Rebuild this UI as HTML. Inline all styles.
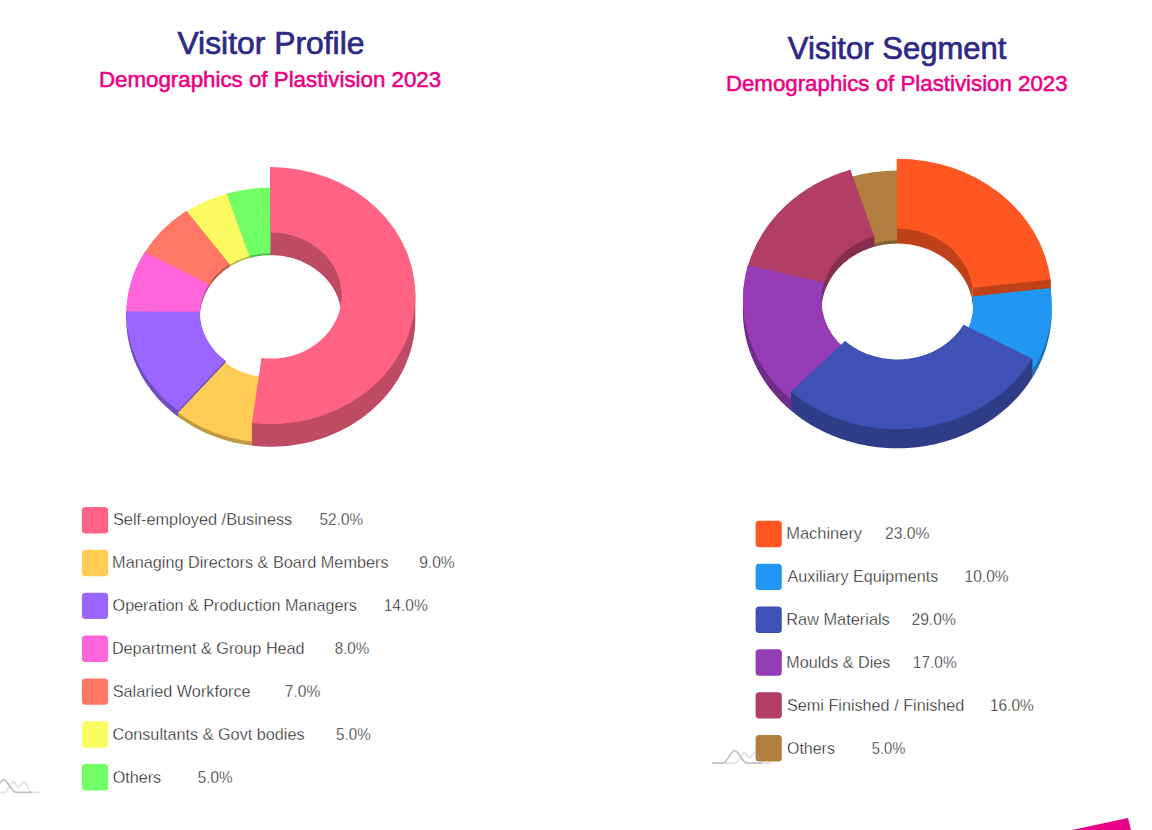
<!DOCTYPE html>
<html><head><meta charset="utf-8"><style>
html,body{margin:0;padding:0;background:#fff;width:1152px;height:830px;overflow:hidden;position:relative}
svg{position:absolute;left:0;top:0}
text{font-family:"Liberation Sans",sans-serif;white-space:pre}
</style></head><body>
<svg width="1152" height="830" viewBox="0 0 1152 830">
<g><path d="M271.56,189.71L271.17,255.18L271.17,253.01L270.8,253L270.8,187.54L271.56,187.54Z" fill="#56bf4c"/><path d="M226.85,193.62L227.22,194.64L229.91,193.9L232.61,193.21L235.33,192.57L238.07,191.97L237.79,190.93L237.79,193.11L235.04,193.71L232.29,194.35L229.56,195.05L226.85,195.79ZM237.79,190.93L238.07,191.97L240.81,191.42L243.57,190.92L246.34,190.47L249.12,190.07L248.94,189.02L248.94,191.19L246.13,191.6L243.34,192.05L240.56,192.55L237.79,193.11ZM248.94,189.02L249.12,190.07L251.9,189.72L254.7,189.41L257.5,189.15L260.3,188.95L260.21,187.88L260.21,190.06L257.39,190.27L254.56,190.52L251.74,190.83L248.94,191.19ZM260.21,187.88L260.3,188.95L263.11,188.79L265.92,188.68L268.74,188.62L271.55,188.61L271.56,187.54L271.56,189.71L268.72,189.72L265.88,189.79L263.05,189.9L260.21,190.06ZM249.24,255.99L248.88,254.97L250.23,254.6L251.59,254.25L252.96,253.93L254.34,253.63L254.61,254.67L254.61,256.84L253.26,257.14L251.91,257.46L250.57,257.8L249.24,258.16ZM254.61,254.67L254.34,253.63L255.72,253.36L257.1,253.1L258.5,252.88L259.89,252.68L260.08,253.73L260.08,255.9L258.7,256.1L257.33,256.33L255.97,256.57L254.61,256.84ZM260.08,253.73L259.89,252.68L261.3,252.5L262.7,252.34L264.11,252.21L265.52,252.11L265.61,253.17L265.61,255.35L264.22,255.45L262.84,255.58L261.45,255.73L260.08,255.9ZM265.61,253.17L265.52,252.11L266.93,252.03L268.35,251.98L269.76,251.94L271.18,251.94L271.17,253.01L271.17,255.18L269.78,255.18L268.39,255.21L267,255.27L265.61,255.35Z" fill="#56bf4c"/><path d="M248.89,256.09L226.13,193.83A144.55,128.49,0,0,1,271.56,187.54L271.17,253.01A70.9,63.02,0,0,0,248.89,256.09Z" fill="#72ff66"/><path d="M249.24,258.16L226.85,195.79L226.85,193.62L249.24,255.99Z" fill="#56bf4c"/></g>
<g><path d="M226.85,195.79L249.24,258.16L249.24,255.99L248.89,256.09L226.13,193.83L226.85,193.62Z" fill="#bbbc48"/><path d="M186.45,211.68L187.15,212.55L189.45,211.11L191.78,209.71L194.15,208.35L196.54,207.03L195.92,206.12L195.92,208.3L193.51,209.62L191.12,210.99L188.77,212.4L186.45,213.86ZM195.92,206.12L196.54,207.03L198.96,205.76L201.41,204.53L203.89,203.34L206.39,202.19L205.85,201.24L205.85,203.41L203.33,204.57L200.83,205.77L198.36,207.01L195.92,208.3ZM205.85,201.24L206.39,202.19L208.92,201.09L211.47,200.03L214.04,199.02L216.64,198.05L216.18,197.06L216.18,199.24L213.57,200.21L210.97,201.23L208.4,202.3L205.85,203.41ZM216.18,197.06L216.64,198.05L219.25,197.13L221.89,196.25L224.54,195.42L227.22,194.64L226.85,193.62L226.85,195.79L224.16,196.58L221.48,197.42L218.82,198.31L216.18,199.24ZM229.43,264.85L228.73,263.98L229.88,263.26L231.06,262.55L232.25,261.87L233.45,261.21L234.07,262.12L234.07,264.29L232.89,264.94L231.72,265.62L230.57,266.31L229.43,267.02ZM234.07,262.12L233.45,261.21L234.67,260.57L235.9,259.95L237.15,259.35L238.4,258.77L238.94,259.72L238.94,261.9L237.71,262.46L236.48,263.05L235.27,263.66L234.07,264.29ZM238.94,259.72L238.4,258.77L239.67,258.22L240.96,257.69L242.25,257.18L243.56,256.69L244.01,257.68L244.01,259.85L242.73,260.33L241.45,260.83L240.19,261.35L238.94,261.9ZM244.01,257.68L243.56,256.69L244.87,256.22L246.2,255.78L247.53,255.37L248.88,254.97L249.24,255.99L249.24,258.16L247.92,258.55L246.61,258.96L245.31,259.39L244.01,259.85Z" fill="#bbbc48"/><path d="M229.13,265.04L185.84,212.08A144.55,128.49,0,0,1,226.85,193.62L249.24,255.99A70.9,63.02,0,0,0,229.13,265.04Z" fill="#f9fb60"/><path d="M229.43,267.02L186.45,213.86L186.45,211.68L229.43,264.85Z" fill="#bbbc48"/></g>
<g><path d="M186.45,213.86L229.43,267.02L229.43,263.98L229.13,264.17L185.84,211.21L186.45,210.81Z" fill="#bf5a4c"/><path d="M144.5,252.67L145.54,253.19L146.84,251.16L148.18,249.15L149.56,247.16L150.99,245.2L149.98,244.61L149.98,247.66L148.55,249.64L147.16,251.64L145.81,253.66L144.5,255.71ZM149.98,244.61L150.99,245.2L152.45,243.26L153.95,241.34L155.49,239.45L157.07,237.59L156.12,236.94L156.12,239.98L154.53,241.86L152.97,243.77L151.46,245.7L149.98,247.66ZM156.12,236.94L157.07,237.59L158.69,235.75L160.35,233.94L162.04,232.15L163.77,230.39L162.87,229.68L162.87,232.73L161.13,234.5L159.42,236.3L157.75,238.13L156.12,239.98ZM162.87,229.68L163.77,230.39L165.53,228.66L167.34,226.96L169.17,225.29L171.04,223.65L170.21,222.89L170.21,225.93L168.32,227.58L166.47,229.27L164.65,230.98L162.87,232.73ZM170.21,222.89L171.04,223.65L172.94,222.04L174.88,220.46L176.85,218.92L178.85,217.4L178.08,216.59L178.08,219.63L176.06,221.15L174.08,222.71L172.12,224.31L170.21,225.93ZM178.08,216.59L178.85,217.4L180.88,215.92L182.94,214.47L185.03,213.06L187.15,211.68L186.45,210.81L186.45,213.86L184.31,215.25L182.2,216.67L180.13,218.13L178.08,219.63ZM208.85,284.51L207.8,283.99L208.45,282.97L209.13,281.96L209.82,280.96L210.54,279.97L211.54,280.56L211.54,283.6L210.84,284.57L210.15,285.55L209.49,286.55L208.85,287.55ZM211.54,280.56L210.54,279.97L211.27,279L212.03,278.03L212.8,277.08L213.6,276.14L214.55,276.79L214.55,279.83L213.77,280.76L213.01,281.69L212.26,282.64L211.54,283.6ZM214.55,276.79L213.6,276.14L214.41,275.22L215.25,274.31L216.1,273.41L216.97,272.52L217.86,273.23L217.86,276.28L217.01,277.15L216.17,278.03L215.35,278.92L214.55,279.83ZM217.86,273.23L216.97,272.52L217.86,271.65L218.76,270.8L219.68,269.96L220.62,269.13L221.46,269.9L221.46,272.94L220.54,273.75L219.63,274.58L218.74,275.42L217.86,276.28ZM221.46,269.9L220.62,269.13L221.58,268.32L222.56,267.53L223.55,266.75L224.55,265.99L225.32,266.81L225.32,269.85L224.33,270.6L223.36,271.37L222.4,272.15L221.46,272.94ZM225.32,266.81L224.55,265.99L225.57,265.25L226.61,264.52L227.66,263.81L228.73,263.11L229.43,263.98L229.43,267.02L228.38,267.7L227.34,268.4L226.33,269.12L225.32,269.85Z" fill="#bf5a4c"/><path d="M208.67,284.8L144.13,253.26A144.55,128.49,0,0,1,186.45,210.81L229.43,263.98A70.9,63.02,0,0,0,208.67,284.8Z" fill="#ff7866"/><path d="M208.85,287.55L144.5,255.71L144.5,252.67L208.85,284.51Z" fill="#bf5a4c"/></g>
<g><path d="M144.5,255.71L208.85,287.55L208.85,284.07L208.67,284.36L144.13,252.82L144.5,252.23Z" fill="#bf4ca4"/><path d="M126.25,317.53L126.3,314.84L126.41,312.15L126.58,309.46L126.82,306.78L126.82,303.3L128.02,303.4L127.78,306.06L127.61,308.72L127.5,311.39L127.45,314.06L126.25,314.05ZM126.82,306.78L127.12,304.1L127.49,301.43L127.91,298.76L128.4,296.11L128.4,292.63L129.58,292.82L129.1,295.45L128.68,298.09L128.32,300.74L128.02,303.4L126.82,303.3ZM128.4,296.11L128.95,293.46L129.57,290.83L130.24,288.2L130.98,285.59L130.98,282.12L132.14,282.39L131.41,284.98L130.74,287.58L130.13,290.19L129.58,292.82L128.4,292.63ZM130.98,285.59L131.78,283L132.64,280.42L133.56,277.86L134.54,275.31L134.54,271.83L135.67,272.19L134.7,274.71L133.79,277.26L132.93,279.81L132.14,282.39L130.98,282.12ZM134.54,271.83L135.67,272.19L136.7,269.68L137.79,267.2L138.94,264.73L140.15,262.29L139.06,261.85L139.06,265.32L137.84,267.79L136.68,270.28L135.58,272.78L134.54,275.31ZM139.06,261.85L140.15,262.29L141.41,259.87L142.74,257.47L144.11,255.1L145.54,252.75L144.5,252.23L144.5,255.71L143.05,258.08L141.66,260.47L140.33,262.88L139.06,265.32ZM199.9,314.39L198.7,314.39L198.72,313.05L198.78,311.7L198.87,310.36L198.99,309.03L200.18,309.12L200.18,312.6L200.06,313.91L199.98,315.23L199.92,316.55L199.9,317.87ZM200.18,309.12L198.99,309.03L199.14,307.69L199.32,306.36L199.53,305.03L199.77,303.7L200.96,303.89L200.96,307.36L200.72,308.67L200.51,309.97L200.33,311.28L200.18,312.6ZM200.96,303.89L199.77,303.7L200.05,302.38L200.36,301.07L200.69,299.76L201.06,298.46L202.22,298.73L202.22,302.21L201.86,303.49L201.53,304.77L201.23,306.07L200.96,307.36ZM202.22,298.73L201.06,298.46L201.46,297.17L201.89,295.88L202.35,294.6L202.84,293.33L203.97,293.69L203.97,297.16L203.49,298.41L203.03,299.67L202.61,300.93L202.22,302.21ZM203.97,293.69L202.84,293.33L203.35,292.07L203.9,290.82L204.48,289.58L205.09,288.35L206.18,288.79L206.18,292.27L205.58,293.47L205.02,294.69L204.48,295.92L203.97,297.16ZM206.18,288.79L205.09,288.35L205.72,287.13L206.39,285.93L207.08,284.73L207.8,283.55L208.85,284.07L208.85,287.55L208.14,288.71L207.46,289.88L206.81,291.07L206.18,292.27Z" fill="#bf4ca4"/><path d="M199.9,314.72L126.25,314.72A144.55,128.49,0,0,1,144.5,252.23L208.85,284.07A70.9,63.02,0,0,0,199.9,314.72Z" fill="#ff65da"/><path d="M199.9,317.87L126.25,317.53L126.25,314.05L199.9,314.39Z" fill="#bf4ca4"/></g>
<g><path d="M126.25,317.53L199.9,317.87L199.9,311.79L199.9,312.12L126.25,312.12L126.25,311.44Z" fill="#734cbf"/><path d="M178.08,416.77L175.88,415.1L173.72,413.4L171.6,411.65L169.52,409.87L169.52,403.79L170.36,403.03L172.42,404.79L174.53,406.52L176.67,408.22L178.85,409.87L178.08,410.69ZM169.52,409.87L167.47,408.06L165.47,406.2L163.52,404.31L161.6,402.39L161.6,396.3L162.51,395.61L164.41,397.51L166.35,399.39L168.33,401.22L170.36,403.03L169.52,403.79ZM161.6,402.39L159.73,400.43L157.9,398.44L156.12,396.42L154.38,394.37L154.38,388.28L155.35,387.65L157.07,389.69L158.84,391.69L160.65,393.66L162.51,395.61L161.6,396.3ZM154.38,394.37L152.69,392.28L151.05,390.17L149.46,388.03L147.91,385.86L147.91,379.77L148.93,379.21L150.47,381.36L152.05,383.49L153.68,385.58L155.35,387.65L154.38,388.28ZM147.91,385.86L146.41,383.66L144.97,381.44L143.57,379.19L142.22,376.91L142.22,370.83L143.29,370.34L144.63,372.6L146.01,374.83L147.45,377.03L148.93,379.21L147.91,379.77ZM142.22,376.91L140.93,374.62L139.69,372.3L138.5,369.96L137.36,367.6L137.36,361.51L138.47,361.1L139.59,363.44L140.78,365.76L142.01,368.06L143.29,370.34L142.22,370.83ZM137.36,367.6L136.27,365.22L135.24,362.82L134.27,360.4L133.35,357.96L133.35,351.88L134.49,351.55L135.4,353.96L136.37,356.36L137.39,358.74L138.47,361.1L137.36,361.51ZM133.35,357.96L132.48,355.51L131.67,353.05L130.91,350.57L130.21,348.08L130.21,341.99L131.38,341.74L132.07,344.22L132.82,346.67L133.63,349.12L134.49,351.55L133.35,351.88ZM130.21,348.08L129.57,345.57L128.98,343.06L128.45,340.53L127.98,338L127.98,331.91L129.16,331.75L129.63,334.26L130.16,336.77L130.74,339.26L131.38,341.74L130.21,341.99ZM127.98,338L127.56,335.46L127.2,332.91L126.9,330.35L126.65,327.79L126.65,321.71L127.85,321.63L128.09,324.17L128.39,326.7L128.75,329.23L129.16,331.75L127.98,331.91ZM126.65,327.79L126.47,325.23L126.34,322.66L126.27,320.1L126.25,317.53L126.25,311.44L127.45,311.45L127.47,314L127.54,316.54L127.66,319.09L127.85,321.63L126.65,321.71ZM225.32,366.55L224.24,365.73L223.18,364.89L222.14,364.04L221.12,363.16L221.12,357.08L220.28,357.84L221.32,358.73L222.38,359.6L223.45,360.45L224.55,361.28L225.32,360.46ZM221.12,363.16L220.12,362.27L219.14,361.36L218.18,360.44L217.24,359.49L217.24,353.41L216.33,354.11L217.29,355.07L218.26,356.01L219.26,356.93L220.28,357.84L221.12,357.08ZM217.24,359.49L216.32,358.53L215.43,357.56L214.55,356.57L213.7,355.56L213.7,349.47L212.73,350.11L213.6,351.13L214.49,352.14L215.4,353.13L216.33,354.11L217.24,353.41ZM213.7,355.56L212.87,354.54L212.07,353.5L211.28,352.45L210.52,351.38L210.52,345.3L209.5,345.86L210.28,346.94L211.07,348.01L211.89,349.07L212.73,350.11L213.7,349.47ZM210.52,351.38L209.79,350.31L209.08,349.22L208.4,348.11L207.74,347L207.74,340.91L206.67,341.4L207.34,342.53L208.04,343.66L208.76,344.77L209.5,345.86L210.52,345.3ZM207.74,347L207.1,345.87L206.49,344.73L205.91,343.59L205.35,342.43L205.35,336.34L204.24,336.75L204.81,337.93L205.4,339.1L206.02,340.26L206.67,341.4L207.74,340.91ZM205.35,342.43L204.82,341.26L204.31,340.08L203.83,338.9L203.38,337.7L203.38,331.62L202.24,331.95L202.7,333.16L203.19,334.37L203.7,335.57L204.24,336.75L205.35,336.34ZM203.38,337.7L202.96,336.5L202.56,335.29L202.19,334.08L201.84,332.85L201.84,326.77L200.68,327.02L201.03,328.26L201.4,329.5L201.81,330.73L202.24,331.95L203.38,331.62ZM201.84,332.85L201.53,331.63L201.24,330.39L200.98,329.15L200.75,327.91L200.75,321.83L199.56,321.99L199.8,323.25L200.06,324.51L200.36,325.77L200.68,327.02L201.84,326.77ZM200.75,321.83L199.56,321.99L199.35,320.72L199.17,319.45L199.02,318.18L198.9,316.9L200.1,316.82L200.1,322.91L200.22,324.16L200.37,325.41L200.54,326.66L200.75,327.91ZM200.1,316.82L198.9,316.9L198.81,315.62L198.74,314.34L198.71,313.06L198.7,311.78L199.9,311.79L199.9,317.87L199.91,319.13L199.94,320.39L200.01,321.65L200.1,322.91Z" fill="#734cbf"/><path d="M225.61,360.67L178.66,411.12A144.55,128.49,0,0,1,126.25,311.44L199.9,311.79A70.9,63.02,0,0,0,225.61,360.67Z" fill="#9966ff"/><path d="M225.32,366.55L178.08,416.77L178.08,410.69L225.32,360.46Z" fill="#734cbf"/></g>
<g><path d="M178.08,416.77L225.32,366.55L225.32,362.64L225.61,362.85L178.66,413.29L178.08,412.86Z" fill="#bf9a40"/><path d="M251.93,445.59L249.04,445.22L246.16,444.81L243.29,444.34L240.43,443.82L240.43,439.91L240.68,438.87L243.52,439.38L246.37,439.85L249.22,440.26L252.09,440.62L251.93,441.68ZM240.43,443.82L237.58,443.25L234.75,442.63L231.93,441.96L229.12,441.23L229.12,437.32L229.47,436.3L232.25,437.02L235.05,437.68L237.86,438.3L240.68,438.87L240.43,439.91ZM229.12,441.23L226.34,440.46L223.57,439.64L220.82,438.76L218.09,437.84L218.09,433.93L218.53,432.94L221.23,433.85L223.96,434.72L226.71,435.53L229.47,436.3L229.12,437.32ZM218.09,437.84L215.38,436.87L212.7,435.85L210.04,434.79L207.4,433.67L207.4,429.76L207.93,428.8L210.54,429.91L213.18,430.96L215.84,431.97L218.53,432.94L218.09,433.93ZM207.4,433.67L204.79,432.51L202.21,431.3L199.65,430.05L197.13,428.75L197.13,424.84L197.74,423.92L200.24,425.21L202.78,426.45L205.34,427.65L207.93,428.8L207.4,429.76ZM197.13,428.75L194.63,427.4L192.16,426.01L189.73,424.58L187.33,423.1L187.33,419.19L188.02,418.32L190.4,419.78L192.82,421.21L195.26,422.58L197.74,423.92L197.13,424.84ZM187.33,423.1L184.96,421.58L182.63,420.02L180.34,418.42L178.08,416.77L178.08,412.86L178.85,412.04L181.09,413.67L183.36,415.26L185.68,416.81L188.02,418.32L187.33,419.19ZM261.55,380.68L260.13,380.5L258.71,380.3L257.31,380.07L255.9,379.82L255.9,375.9L255.65,376.95L257.08,377.21L258.51,377.44L259.95,377.65L261.39,377.83L261.55,376.77ZM255.9,379.82L254.51,379.54L253.12,379.23L251.73,378.9L250.36,378.55L250.36,374.63L250.01,375.66L251.41,376.02L252.82,376.35L254.23,376.66L255.65,376.95L255.9,375.9ZM250.36,378.55L248.99,378.17L247.63,377.76L246.29,377.34L244.95,376.88L244.95,372.97L244.51,373.96L245.87,374.42L247.24,374.86L248.62,375.27L250.01,375.66L250.36,374.63ZM244.95,376.88L243.62,376.41L242.3,375.91L241,375.38L239.7,374.84L239.7,370.93L239.18,371.88L240.49,372.44L241.82,372.97L243.16,373.48L244.51,373.96L244.95,372.97ZM239.7,374.84L238.42,374.27L237.16,373.67L235.9,373.06L234.66,372.42L234.66,368.51L234.05,369.43L235.31,370.08L236.59,370.7L237.88,371.3L239.18,371.88L239.7,370.93ZM234.66,372.42L233.44,371.76L232.23,371.08L231.04,370.38L229.86,369.65L229.86,365.74L229.17,366.61L230.36,367.35L231.58,368.06L232.81,368.76L234.05,369.43L234.66,368.51ZM229.86,369.65L228.7,368.91L227.55,368.14L226.43,367.35L225.32,366.55L225.32,362.64L224.55,363.46L225.68,364.28L226.82,365.08L227.99,365.85L229.17,366.61L229.86,365.74Z" fill="#bf9a40"/><path d="M261.91,376.81L252.68,441.76A144.55,128.49,0,0,1,178.08,412.86L225.32,362.64A70.9,63.02,0,0,0,261.91,376.81Z" fill="#ffcd56"/><path d="M261.55,380.68L251.93,445.59L251.93,441.68L261.55,376.77Z" fill="#bf9a40"/></g>
<g><path d="M251.93,445.59L261.55,380.68L261.55,358.08L261.91,358.13L252.68,423.08L251.93,422.99Z" fill="#bf4a63"/><path d="M270.49,255.18L270.17,189.71L270.17,167.11L270.93,167.11L270.86,232.58L270.49,232.58Z" fill="#bf4a63"/><path d="M270.17,167.11L270.17,168.18L273.26,168.2L276.35,168.27L279.44,168.41L282.52,168.6L282.62,167.54L282.62,190.14L279.51,189.94L276.4,189.81L273.29,189.73L270.17,189.71ZM282.62,167.54L282.52,168.6L285.6,168.86L288.67,169.17L291.73,169.54L294.78,169.97L294.98,168.92L294.98,191.52L291.91,191.09L288.82,190.71L285.72,190.4L282.62,190.14ZM294.98,168.92L294.78,169.97L297.83,170.46L300.85,171.01L303.87,171.61L306.87,172.28L307.17,171.24L307.17,193.84L304.14,193.18L301.11,192.57L298.05,192.02L294.98,191.52ZM307.17,171.24L306.87,172.28L309.85,173L312.81,173.77L315.76,174.61L318.68,175.5L319.08,174.49L319.08,197.09L316.13,196.19L313.17,195.35L310.18,194.57L307.17,193.84ZM319.08,174.49L318.68,175.5L321.58,176.44L324.46,177.44L327.31,178.5L330.14,179.61L330.64,178.64L330.64,201.24L327.79,200.12L324.91,199.05L322.01,198.04L319.08,197.09ZM330.64,178.64L330.14,179.61L332.94,180.77L335.71,181.99L338.45,183.26L341.16,184.58L341.75,183.65L341.75,206.25L339.02,204.92L336.25,203.64L333.46,202.41L330.64,201.24ZM341.75,183.65L341.16,184.58L343.84,185.96L346.48,187.38L349.08,188.86L351.65,190.38L352.33,189.5L352.33,212.1L349.74,210.56L347.11,209.08L344.45,207.64L341.75,206.25ZM352.33,189.5L351.65,190.38L354.19,191.96L356.68,193.58L359.14,195.25L361.55,196.96L362.31,196.14L362.31,218.74L359.88,217.01L357.4,215.32L354.89,213.69L352.33,212.1ZM362.31,196.14L361.55,196.96L363.92,198.72L366.25,200.53L368.53,202.38L370.77,204.28L371.61,203.51L371.61,226.11L369.35,224.2L367.05,222.34L364.7,220.51L362.31,218.74ZM371.61,203.51L370.77,204.28L372.96,206.21L375.1,208.19L377.2,210.21L379.25,212.27L380.15,211.57L380.15,234.17L378.09,232.1L375.98,230.06L373.82,228.06L371.61,226.11ZM380.15,211.57L379.25,212.27L381.24,214.37L383.19,216.5L385.08,218.67L386.92,220.88L387.89,220.26L387.89,242.86L386.04,240.63L384.13,238.44L382.17,236.29L380.15,234.17ZM387.89,220.26L386.92,220.88L388.7,223.12L390.43,225.4L392.11,227.71L393.73,230.05L394.75,229.5L394.75,252.1L393.12,249.74L391.43,247.41L389.69,245.12L387.89,242.86ZM394.75,229.5L393.73,230.05L395.29,232.42L396.79,234.82L398.23,237.25L399.62,239.7L400.7,239.23L400.7,261.83L399.3,259.36L397.84,256.91L396.33,254.49L394.75,252.1ZM400.7,239.23L399.62,239.7L400.95,242.18L402.21,244.69L403.42,247.22L404.56,249.77L405.68,249.39L405.68,271.99L404.53,269.41L403.31,266.86L402.04,264.34L400.7,261.83ZM405.68,249.39L404.56,249.77L405.64,252.35L406.66,254.94L407.61,257.55L408.5,260.18L409.65,259.89L409.65,282.49L408.76,279.83L407.79,277.2L406.77,274.58L405.68,271.99ZM409.65,259.89L408.5,260.18L409.33,262.83L410.09,265.49L410.79,268.17L411.42,270.86L412.6,270.65L412.6,293.25L411.96,290.54L411.26,287.84L410.49,285.15L409.65,282.49ZM412.6,270.65L411.42,270.86L411.99,273.56L412.49,276.27L412.93,278.99L413.3,281.71L414.49,281.6L414.49,304.2L414.12,301.45L413.68,298.7L413.17,295.97L412.6,293.25ZM414.49,281.6L413.3,281.71L413.6,284.45L413.84,287.19L414.01,289.93L414.11,292.67L415.31,292.65L415.31,315.25L415.21,312.48L415.03,309.72L414.8,306.95L414.49,304.2ZM415.31,315.25L415.35,318.02L415.32,320.79L415.22,323.56L415.06,326.32L415.06,303.72L413.86,303.66L414.03,300.91L414.12,298.17L414.15,295.42L414.11,292.67L415.31,292.65ZM415.06,326.32L414.83,329.09L414.53,331.84L414.17,334.59L413.74,337.34L413.74,314.74L412.55,314.58L412.98,311.86L413.34,309.13L413.63,306.4L413.86,303.66L415.06,303.72ZM413.74,337.34L413.24,340.07L412.68,342.8L412.05,345.51L411.35,348.21L411.35,325.61L410.19,325.36L410.87,322.68L411.5,319.99L412.06,317.29L412.55,314.58L413.74,314.74ZM411.35,348.21L410.59,350.9L409.77,353.57L408.88,356.22L407.92,358.86L407.92,336.26L406.78,335.92L407.73,333.31L408.61,330.67L409.43,328.02L410.19,325.36L411.35,325.61ZM407.92,358.86L406.9,361.48L405.82,364.07L404.68,366.65L403.47,369.2L403.47,346.6L402.37,346.18L403.57,343.65L404.7,341.09L405.77,338.52L406.78,335.92L407.92,336.26ZM403.47,369.2L402.21,371.74L400.88,374.24L399.49,376.72L398.04,379.17L398.04,356.57L396.98,356.07L398.42,353.63L399.8,351.18L401.11,348.69L402.37,346.18L403.47,346.6ZM398.04,379.17L396.53,381.6L394.96,383.99L393.34,386.35L391.66,388.69L391.66,366.09L390.65,365.5L392.32,363.19L393.93,360.84L395.49,358.47L396.98,356.07L398.04,356.57ZM391.66,388.69L389.92,390.99L388.13,393.25L386.28,395.48L384.38,397.68L384.38,375.08L383.44,374.42L385.32,372.24L387.15,370.03L388.93,367.78L390.65,365.5L391.66,366.09ZM384.38,397.68L382.43,399.84L380.42,401.95L378.36,404.04L376.26,406.08L376.26,383.48L375.38,382.75L377.47,380.72L379.51,378.66L381.5,376.56L383.44,374.42L384.38,375.08ZM376.26,406.08L374.1,408.08L371.9,410.04L369.65,411.95L367.35,413.82L367.35,391.22L366.55,390.43L368.83,388.57L371.06,386.67L373.24,384.73L375.38,382.75L376.26,383.48ZM367.35,413.82L365.01,415.65L362.62,417.43L360.2,419.17L357.73,420.86L357.73,398.26L357,397.41L359.45,395.73L361.86,394.01L364.23,392.24L366.55,390.43L367.35,391.22ZM357.73,420.86L355.22,422.5L352.67,424.1L350.08,425.64L347.46,427.13L347.46,404.53L346.82,403.63L349.42,402.15L351.99,400.62L354.52,399.04L357,397.41L357.73,398.26ZM347.46,427.13L344.8,428.58L342.1,429.97L339.38,431.31L336.62,432.6L336.62,410L336.07,409.05L338.81,407.77L341.51,406.44L344.18,405.06L346.82,403.63L347.46,404.53ZM336.62,432.6L333.83,433.83L331.01,435.01L328.16,436.14L325.29,437.21L325.29,414.61L324.84,413.62L327.69,412.56L330.51,411.44L333.3,410.27L336.07,409.05L336.62,410ZM325.29,437.21L322.39,438.23L319.47,439.19L316.52,440.09L313.55,440.94L313.55,418.34L313.2,417.32L316.14,416.48L319.06,415.58L321.96,414.63L324.84,413.62L325.29,414.61ZM313.55,440.94L310.57,441.73L307.56,442.46L304.54,443.14L301.5,443.76L301.5,421.16L301.25,420.11L304.26,419.5L307.26,418.83L310.24,418.11L313.2,417.32L313.55,418.34ZM301.5,443.76L298.45,444.32L295.39,444.82L292.31,445.26L289.22,445.64L289.22,423.04L289.07,421.98L292.13,421.6L295.18,421.17L298.22,420.67L301.25,420.11L301.5,421.16ZM289.22,445.64L286.13,445.96L283.03,446.23L279.92,446.43L276.81,446.58L276.81,423.98L276.76,422.91L279.84,422.77L282.92,422.57L286,422.3L289.07,421.98L289.22,423.04ZM276.81,446.58L273.69,446.66L270.58,446.69L267.46,446.65L264.35,446.56L264.35,423.96L264.4,422.9L267.49,422.99L270.58,423.02L273.67,423L276.76,422.91L276.81,423.98ZM264.35,446.56L261.23,446.41L258.13,446.19L255.03,445.92L251.93,445.59L251.93,422.99L252.09,421.93L255.16,422.26L258.23,422.53L261.31,422.74L264.4,422.9L264.35,423.96ZM270.49,232.58L270.49,231.51L272.04,231.52L273.59,231.56L275.15,231.63L276.7,231.73L276.6,232.79L276.6,255.39L275.07,255.29L273.55,255.23L272.02,255.19L270.49,255.18ZM276.6,232.79L276.7,231.73L278.24,231.85L279.79,232.01L281.33,232.2L282.86,232.41L282.66,233.47L282.66,256.07L281.15,255.85L279.64,255.67L278.12,255.51L276.6,255.39ZM282.66,233.47L282.86,232.41L284.39,232.66L285.92,232.94L287.43,233.24L288.94,233.57L288.64,234.61L288.64,257.21L287.16,256.88L285.66,256.58L284.17,256.31L282.66,256.07ZM288.64,234.61L288.94,233.57L290.44,233.93L291.93,234.33L293.41,234.74L294.88,235.19L294.48,236.2L294.48,258.8L293.04,258.36L291.58,257.95L290.11,257.56L288.64,257.21ZM294.48,236.2L294.88,235.19L296.34,235.67L297.79,236.17L299.22,236.7L300.65,237.26L300.15,238.23L300.15,260.83L298.75,260.28L297.34,259.76L295.92,259.27L294.48,258.8ZM300.15,238.23L300.65,237.26L302.05,237.85L303.45,238.46L304.83,239.1L306.19,239.76L305.6,240.69L305.6,263.29L304.26,262.64L302.9,262.01L301.53,261.41L300.15,260.83ZM305.6,240.69L306.19,239.76L307.53,240.45L308.86,241.17L310.17,241.91L311.47,242.68L310.79,243.56L310.79,266.16L309.52,265.41L308.23,264.68L306.92,263.97L305.6,263.29ZM310.79,243.56L311.47,242.68L312.74,243.47L314,244.29L315.23,245.13L316.44,245.99L315.68,246.81L315.68,269.41L314.49,268.57L313.28,267.74L312.04,266.94L310.79,266.16ZM315.68,246.81L316.44,245.99L317.64,246.87L318.81,247.78L319.96,248.71L321.08,249.67L320.24,250.43L320.24,273.03L319.14,272.09L318.01,271.18L316.86,270.29L315.68,269.41ZM320.24,250.43L321.08,249.67L322.18,250.64L323.26,251.64L324.32,252.65L325.34,253.69L324.44,254.38L324.44,276.98L323.42,275.97L322.39,274.97L321.33,273.99L320.24,273.03ZM324.44,254.38L325.34,253.69L326.35,254.74L327.33,255.82L328.28,256.91L329.2,258.02L328.23,258.64L328.23,281.24L327.32,280.15L326.39,279.08L325.42,278.02L324.44,276.98ZM328.23,258.64L329.2,258.02L330.1,259.15L330.97,260.29L331.81,261.45L332.63,262.63L331.6,263.18L331.6,285.78L330.8,284.62L329.97,283.48L329.11,282.35L328.23,281.24ZM331.6,263.18L332.63,262.63L333.41,263.82L334.17,265.03L334.9,266.25L335.59,267.49L334.51,267.95L334.51,290.55L333.83,289.34L333.11,288.14L332.37,286.95L331.6,285.78ZM334.51,267.95L335.59,267.49L336.26,268.73L336.9,269.99L337.5,271.27L338.08,272.55L336.96,272.93L336.96,295.53L336.39,294.27L335.8,293.02L335.17,291.78L334.51,290.55ZM336.96,272.93L338.08,272.55L338.62,273.84L339.13,275.15L339.61,276.46L340.06,277.79L338.91,278.08L338.91,300.68L338.47,299.38L337.99,298.09L337.49,296.81L336.96,295.53ZM338.91,278.08L340.06,277.79L340.47,279.12L340.86,280.46L341.21,281.8L341.53,283.15L340.35,283.36L340.35,305.96L340.04,304.63L339.69,303.31L339.32,301.99L338.91,300.68ZM340.35,283.36L341.53,283.15L341.81,284.51L342.07,285.88L342.28,287.24L342.47,288.62L341.28,288.73L341.28,311.33L341.09,309.98L340.88,308.64L340.63,307.3L340.35,305.96ZM341.28,288.73L342.47,288.62L342.62,289.99L342.74,291.37L342.83,292.75L342.88,294.13L341.68,294.15L341.68,316.75L341.63,315.39L341.55,314.04L341.43,312.68L341.28,311.33ZM341.68,294.15L342.88,294.13L342.9,295.51L342.89,296.89L342.84,298.27L342.76,299.65L341.56,299.58L341.56,322.18L341.64,320.83L341.69,319.47L341.7,318.11L341.68,316.75ZM341.56,322.18L341.45,323.54L341.3,324.89L341.12,326.24L340.91,327.59L340.91,304.99L342.1,305.15L342.31,303.78L342.49,302.41L342.64,301.03L342.76,299.65L341.56,299.58ZM340.91,327.59L340.67,328.93L340.39,330.26L340.08,331.59L339.74,332.92L339.74,310.32L340.91,310.57L341.25,309.22L341.57,307.87L341.85,306.51L342.1,305.15L340.91,304.99ZM339.74,332.92L339.37,334.24L338.96,335.55L338.52,336.85L338.06,338.14L338.06,315.54L339.2,315.88L339.67,314.56L340.11,313.24L340.53,311.91L340.91,310.57L339.74,310.32ZM338.06,338.14L337.56,339.43L337.03,340.7L336.47,341.96L335.87,343.22L335.87,320.62L336.98,321.04L337.58,319.77L338.15,318.48L338.69,317.19L339.2,315.88L338.06,315.54ZM335.87,343.22L335.25,344.46L334.6,345.69L333.92,346.9L333.21,348.11L333.21,325.51L334.27,326.01L334.99,324.79L335.68,323.55L336.34,322.3L336.98,321.04L335.87,320.62ZM333.21,348.11L332.47,349.3L331.7,350.47L330.9,351.63L330.08,352.77L330.08,330.17L331.08,330.76L331.92,329.59L332.73,328.42L333.51,327.22L334.27,326.01L333.21,325.51ZM330.08,352.77L329.23,353.9L328.35,355.01L327.44,356.11L326.51,357.18L326.51,334.58L327.45,335.24L328.4,334.15L329.32,333.03L330.22,331.9L331.08,330.76L330.08,330.17ZM326.51,357.18L325.55,358.24L324.57,359.28L323.56,360.3L322.53,361.3L322.53,338.7L323.4,339.43L324.45,338.41L325.48,337.38L326.48,336.32L327.45,335.24L326.51,334.58ZM322.53,361.3L321.47,362.28L320.39,363.24L319.28,364.18L318.16,365.1L318.16,342.5L318.96,343.3L320.1,342.36L321.23,341.41L322.33,340.43L323.4,339.43L322.53,338.7ZM318.16,365.1L317.01,366L315.84,366.87L314.65,367.72L313.44,368.55L313.44,345.95L314.16,346.81L315.39,345.96L316.6,345.1L317.79,344.21L318.96,343.3L318.16,342.5ZM313.44,368.55L312.21,369.36L310.95,370.14L309.69,370.9L308.4,371.63L308.4,349.03L309.04,349.93L310.34,349.19L311.63,348.42L312.91,347.62L314.16,346.81L313.44,345.95ZM308.4,371.63L307.09,372.34L305.77,373.02L304.44,373.68L303.08,374.31L303.08,351.71L303.63,352.66L305,352.02L306.36,351.35L307.71,350.65L309.04,349.93L308.4,349.03ZM303.08,374.31L301.71,374.92L300.33,375.5L298.93,376.05L297.53,376.57L297.53,353.97L297.98,354.96L299.41,354.43L300.83,353.86L302.24,353.28L303.63,352.66L303.08,351.71ZM297.53,376.57L296.1,377.07L294.67,377.54L293.23,377.99L291.77,378.4L291.77,355.8L292.13,356.82L293.61,356.4L295.07,355.95L296.53,355.47L297.98,354.96L297.53,353.97ZM291.77,378.4L290.31,378.79L288.83,379.15L287.35,379.48L285.86,379.78L285.86,357.18L286.11,358.23L287.63,357.92L289.14,357.58L290.64,357.22L292.13,356.82L291.77,355.8ZM285.86,379.78L284.36,380.06L282.86,380.3L281.35,380.52L279.84,380.71L279.84,358.11L279.99,359.17L281.53,358.98L283.06,358.76L284.59,358.51L286.11,358.23L285.86,357.18ZM279.84,380.71L278.32,380.87L276.8,381L275.27,381.1L273.75,381.17L273.75,358.57L273.8,359.63L275.35,359.56L276.9,359.46L278.45,359.33L279.99,359.17L279.84,358.11ZM273.75,381.17L272.22,381.21L270.69,381.22L269.16,381.21L267.63,381.16L267.63,358.56L267.58,359.62L269.13,359.67L270.69,359.69L272.24,359.68L273.8,359.63L273.75,358.57ZM267.63,381.16L266.11,381.08L264.58,380.98L263.06,380.85L261.55,380.68L261.55,358.08L261.39,359.14L262.93,359.31L264.48,359.44L266.03,359.55L267.58,359.62L267.63,358.56Z" fill="#bf4a63"/><path d="M270.49,232.58L270.17,167.11A144.55,128.49,0,1,1,251.93,422.99L261.55,358.08A70.9,63.02,0,1,0,270.49,232.58Z" fill="#ff6384"/></g>
<g><path d="M898.11,173.77L897.7,243.61L897.7,240.33L897.3,240.33L897.3,170.49L898.11,170.49Z" fill="#865e2f"/><path d="M850.35,176.99L850.72,178.01L853.59,177.22L856.48,176.48L859.39,175.79L862.31,175.16L862.04,174.12L862.04,177.39L859.09,178.04L856.16,178.73L853.25,179.47L850.35,180.27ZM862.04,174.12L862.31,175.16L865.25,174.57L868.2,174.04L871.15,173.56L874.12,173.13L873.94,172.07L873.94,175.35L870.95,175.78L867.97,176.27L865,176.8L862.04,177.39ZM873.94,172.07L874.12,173.13L877.1,172.75L880.09,172.42L883.08,172.15L886.08,171.92L885.99,170.86L885.99,174.14L882.97,174.36L879.95,174.64L876.94,174.97L873.94,175.35ZM885.99,170.86L886.08,171.92L889.08,171.75L892.09,171.64L895.09,171.57L898.1,171.56L898.11,170.49L898.11,173.77L895.08,173.78L892.05,173.85L889.02,173.97L885.99,174.14ZM874.24,243.52L873.87,242.51L875.32,242.11L876.77,241.74L878.24,241.39L879.71,241.07L879.98,242.11L879.98,245.39L878.53,245.7L877.09,246.04L875.66,246.41L874.24,246.8ZM879.98,242.11L879.71,241.07L881.18,240.78L882.66,240.51L884.15,240.27L885.65,240.05L885.83,241.11L885.83,244.38L884.36,244.6L882.89,244.84L881.43,245.1L879.98,245.39ZM885.83,241.11L885.65,240.05L887.14,239.86L888.64,239.7L890.15,239.56L891.66,239.45L891.74,240.51L891.74,243.79L890.26,243.9L888.78,244.03L887.3,244.2L885.83,244.38ZM891.74,240.51L891.66,239.45L893.17,239.36L894.68,239.3L896.19,239.27L897.7,239.27L897.7,240.33L897.7,243.61L896.21,243.61L894.72,243.65L893.23,243.7L891.74,243.79Z" fill="#865e2f"/><path d="M873.86,243.63L849.58,177.21A154.42,137.26,0,0,1,898.11,170.49L897.7,240.33A75.85,67.42,0,0,0,873.86,243.63Z" fill="#b27e3f"/><path d="M874.24,246.8L850.35,180.27L850.35,176.99L874.24,243.52Z" fill="#865e2f"/></g>
<g><path d="M850.35,180.27L874.24,246.8L874.24,236.32L873.86,236.42L849.58,170L850.35,169.78Z" fill="#862e4c"/><path d="M747.93,265.72L749.1,265.99L749.94,263.24L750.85,260.5L751.83,257.78L752.87,255.08L751.74,254.73L751.74,265.21L750.69,267.93L749.71,270.67L748.79,273.43L747.93,276.2ZM751.74,254.73L752.87,255.08L753.97,252.41L755.14,249.75L756.36,247.11L757.65,244.5L756.56,244.06L756.56,254.54L755.26,257.18L754.02,259.83L752.85,262.51L751.74,265.21ZM756.56,244.06L757.65,244.5L759.01,241.91L760.42,239.35L761.89,236.82L763.42,234.31L762.37,233.79L762.37,244.27L760.83,246.8L759.35,249.36L757.92,251.94L756.56,254.54ZM762.37,233.79L763.42,234.31L765.01,231.83L766.66,229.39L768.36,226.97L770.13,224.58L769.13,223.99L769.13,234.47L767.35,236.88L765.64,239.31L763.97,241.78L762.37,244.27ZM769.13,223.99L770.13,224.58L771.94,222.23L773.82,219.92L775.74,217.64L777.72,215.39L776.79,214.73L776.79,225.21L774.79,227.47L772.85,229.77L770.96,232.1L769.13,234.47ZM776.79,214.73L777.72,215.39L779.75,213.18L781.84,211.02L783.97,208.89L786.16,206.8L785.29,206.06L785.29,216.54L783.09,218.65L780.93,220.8L778.83,222.98L776.79,225.21ZM785.29,206.06L786.16,206.8L788.39,204.75L790.67,202.74L793,200.78L795.37,198.86L794.58,198.06L794.58,208.54L792.18,210.48L789.84,212.46L787.54,214.48L785.29,216.54ZM794.58,198.06L795.37,198.86L797.79,196.98L800.25,195.15L802.76,193.37L805.3,191.63L804.58,190.78L804.58,201.26L802.02,203.01L799.49,204.81L797.01,206.65L794.58,208.54ZM804.58,190.78L805.3,191.63L807.89,189.95L810.52,188.3L813.18,186.71L815.88,185.17L815.24,184.27L815.24,194.75L812.52,196.31L809.84,197.91L807.19,199.56L804.58,201.26ZM815.24,184.27L815.88,185.17L818.62,183.68L821.39,182.24L824.19,180.86L827.03,179.52L826.48,178.57L826.48,189.06L823.62,190.4L820.79,191.8L818,193.25L815.24,194.75ZM826.48,178.57L827.03,179.52L829.89,178.24L832.79,177.01L835.71,175.84L838.67,174.72L838.21,173.73L838.21,184.22L835.23,185.34L832.28,186.53L829.36,187.76L826.48,189.06ZM838.21,173.73L838.67,174.72L841.64,173.66L844.64,172.65L847.67,171.69L850.72,170.8L850.35,169.78L850.35,180.27L847.28,181.17L844.23,182.13L841.21,183.14L838.21,184.22ZM823.93,283.44L822.77,283.17L823.2,281.78L823.66,280.41L824.15,279.04L824.67,277.69L825.8,278.04L825.8,288.52L825.29,289.86L824.8,291.21L824.35,292.56L823.93,293.92ZM825.8,278.04L824.67,277.69L825.22,276.34L825.81,275L826.43,273.68L827.08,272.36L828.17,272.8L828.17,283.28L827.53,284.58L826.92,285.88L826.35,287.2L825.8,288.52ZM828.17,272.8L827.08,272.36L827.76,271.06L828.47,269.77L829.21,268.5L829.98,267.24L831.02,267.76L831.02,278.24L830.27,279.48L829.54,280.74L828.84,282L828.17,283.28ZM831.02,267.76L829.98,267.24L830.78,265.99L831.6,264.76L832.46,263.55L833.35,262.35L834.34,262.94L834.34,273.43L833.47,274.61L832.63,275.8L831.81,277.01L831.02,278.24ZM834.34,262.94L833.35,262.35L834.26,261.17L835.2,260L836.17,258.85L837.17,257.73L838.1,258.39L838.1,268.87L837.12,269.99L836.17,271.12L835.24,272.26L834.34,273.43ZM838.1,258.39L837.17,257.73L838.19,256.62L839.24,255.52L840.31,254.45L841.41,253.4L842.28,254.14L842.28,264.62L841.2,265.65L840.14,266.71L839.11,267.78L838.1,268.87ZM842.28,254.14L841.41,253.4L842.53,252.37L843.68,251.36L844.85,250.38L846.04,249.41L846.84,250.21L846.84,260.69L845.67,261.64L844.52,262.61L843.39,263.61L842.28,264.62ZM846.84,250.21L846.04,249.41L847.26,248.47L848.5,247.55L849.76,246.65L851.04,245.78L851.76,246.63L851.76,257.11L850.5,257.97L849.26,258.86L848.04,259.76L846.84,260.69ZM851.76,246.63L851.04,245.78L852.34,244.93L853.66,244.1L855,243.3L856.36,242.53L856.99,243.43L856.99,253.92L855.66,254.68L854.34,255.47L853.04,256.28L851.76,257.11ZM856.99,243.43L856.36,242.53L857.73,241.78L859.12,241.06L860.53,240.36L861.96,239.69L862.51,240.63L862.51,251.12L861.11,251.78L859.72,252.46L858.35,253.18L856.99,253.92ZM862.51,240.63L861.96,239.69L863.4,239.04L864.86,238.42L866.33,237.83L867.81,237.27L868.27,238.26L868.27,248.74L866.81,249.29L865.36,249.88L863.93,250.48L862.51,251.12ZM868.27,238.26L867.81,237.27L869.31,236.74L870.82,236.23L872.34,235.75L873.87,235.3L874.24,236.32L874.24,246.8L872.73,247.24L871.23,247.71L869.75,248.21L868.27,248.74Z" fill="#862e4c"/><path d="M823.83,283.78L747.73,266.41A154.42,137.26,0,0,1,850.35,169.78L874.24,236.32A75.85,67.42,0,0,0,823.83,283.78Z" fill="#b23d65"/><path d="M823.93,293.92L747.93,276.2L747.93,265.72L823.93,283.44Z" fill="#862e4c"/></g>
<g><path d="M747.93,276.2L823.93,293.92L823.93,282.78L823.83,283.12L747.73,265.76L747.93,265.06Z" fill="#702d87"/><path d="M791,410.6L788.73,408.63L786.49,406.63L784.31,404.59L782.17,402.51L782.17,391.37L783.06,390.66L785.19,392.72L787.35,394.75L789.57,396.74L791.83,398.68L791,399.46ZM782.17,402.51L780.08,400.38L778.04,398.23L776.05,396.03L774.11,393.8L774.11,382.66L775.07,382.02L776.99,384.23L778.97,386.41L780.99,388.55L783.06,390.66L782.17,391.37ZM774.11,393.8L772.23,391.53L770.39,389.23L768.61,386.9L766.89,384.53L766.89,373.39L767.9,372.82L769.61,375.17L771.38,377.49L773.2,379.77L775.07,382.02L774.11,382.66ZM766.89,384.53L765.21,382.14L763.6,379.71L762.04,377.25L760.54,374.77L760.54,363.63L761.6,363.14L763.09,365.6L764.64,368.04L766.24,370.45L767.9,372.82L766.89,373.39ZM760.54,374.77L759.09,372.26L757.71,369.72L756.38,367.16L755.12,364.58L755.12,353.44L756.22,353.02L757.48,355.59L758.79,358.13L760.17,360.65L761.6,363.14L760.54,363.63ZM755.12,364.58L753.91,361.97L752.76,359.34L751.68,356.69L750.65,354.02L750.65,342.89L751.79,342.55L752.81,345.2L753.88,347.83L755.02,350.44L756.22,353.02L755.12,353.44ZM750.65,354.02L749.69,351.34L748.79,348.63L747.95,345.91L747.18,343.18L747.18,332.04L748.34,331.79L749.11,334.51L749.94,337.2L750.84,339.89L751.79,342.55L750.65,342.89ZM747.18,343.18L746.46,340.43L745.82,337.67L745.23,334.9L744.71,332.12L744.71,320.98L745.9,320.82L746.41,323.58L746.99,326.33L747.64,329.07L748.34,331.79L747.18,332.04ZM744.71,332.12L744.26,329.33L743.87,326.53L743.54,323.73L743.28,320.92L743.28,309.78L744.48,309.7L744.74,312.49L745.06,315.27L745.45,318.05L745.9,320.82L744.71,320.98ZM743.28,320.92L743.09,318.1L742.95,315.29L742.89,312.47L742.89,309.65L742.89,298.51L744.09,298.52L744.09,301.32L744.15,304.12L744.28,306.91L744.48,309.7L743.28,309.78ZM742.89,309.65L742.95,306.83L743.08,304.01L743.28,301.2L743.54,298.39L743.54,287.25L744.73,287.35L744.47,290.14L744.28,292.93L744.15,295.72L744.09,298.52L742.89,298.51ZM743.54,287.25L744.73,287.35L745.05,284.57L745.44,281.79L745.89,279.02L746.4,276.26L745.22,276.07L745.22,287.21L744.7,289.99L744.25,292.78L743.86,295.58L743.54,298.39ZM745.22,276.07L746.4,276.26L746.98,273.51L747.62,270.77L748.33,268.04L749.1,265.33L747.93,265.06L747.93,276.2L747.16,278.93L746.45,281.68L745.8,284.44L745.22,287.21ZM845.09,359.94L843.97,358.97L842.87,357.99L841.8,356.99L840.75,355.96L840.75,344.82L839.85,345.54L840.92,346.57L842.01,347.59L843.13,348.59L844.26,349.57L845.09,348.8ZM840.75,355.96L839.72,354.92L838.72,353.86L837.74,352.78L836.79,351.69L836.79,340.55L835.83,341.19L836.8,342.3L837.79,343.4L838.81,344.48L839.85,345.54L840.75,344.82ZM836.79,351.69L835.86,350.57L834.96,349.44L834.09,348.3L833.24,347.13L833.24,336L832.23,336.57L833.09,337.75L833.98,338.91L834.89,340.06L835.83,341.19L836.79,340.55ZM833.24,347.13L832.42,345.96L831.63,344.76L830.86,343.56L830.12,342.34L830.12,331.2L829.06,331.7L829.81,332.94L830.59,334.16L831.39,335.37L832.23,336.57L833.24,336ZM830.12,342.34L829.41,341.11L828.73,339.86L828.08,338.6L827.46,337.33L827.46,326.19L826.35,326.61L826.99,327.9L827.65,329.18L828.34,330.44L829.06,331.7L830.12,331.2ZM827.46,337.33L826.87,336.05L826.3,334.76L825.77,333.46L825.27,332.15L825.27,321.01L824.13,321.34L824.64,322.68L825.18,324L825.75,325.31L826.35,326.61L827.46,326.19ZM825.27,332.15L824.79,330.83L824.35,329.5L823.94,328.17L823.56,326.82L823.56,315.68L822.39,315.93L822.78,317.3L823.2,318.66L823.65,320L824.13,321.34L825.27,321.01ZM823.56,326.82L823.21,325.47L822.89,324.12L822.61,322.76L822.35,321.39L822.35,310.25L821.16,310.42L821.42,311.8L821.72,313.19L822.04,314.56L822.39,315.93L823.56,315.68ZM822.35,321.39L822.13,320.02L821.94,318.64L821.78,317.27L821.65,315.89L821.65,304.75L820.45,304.83L820.58,306.23L820.74,307.63L820.94,309.02L821.16,310.42L822.35,310.25ZM821.65,304.75L820.45,304.83L820.35,303.42L820.29,302.02L820.25,300.61L820.25,299.2L821.45,299.21L821.45,310.35L821.45,311.74L821.49,313.12L821.55,314.5L821.65,315.89ZM821.45,299.21L820.25,299.2L820.29,297.8L820.35,296.39L820.45,294.99L820.58,293.58L821.77,293.68L821.77,304.82L821.64,306.2L821.55,307.58L821.49,308.97L821.45,310.35ZM821.77,293.68L820.58,293.58L820.74,292.18L820.93,290.79L821.16,289.4L821.42,288.01L822.6,288.19L822.6,299.33L822.35,300.7L822.12,302.07L821.93,303.44L821.77,304.82ZM822.6,288.19L821.42,288.01L821.71,286.63L822.03,285.25L822.39,283.88L822.77,282.51L823.93,282.78L823.93,293.92L823.55,295.26L823.2,296.61L822.89,297.97L822.6,299.33Z" fill="#702d87"/><path d="M845.38,349.04L791.59,399.95A154.42,137.26,0,0,1,747.93,265.06L823.93,282.78A75.85,67.42,0,0,0,845.38,349.04Z" fill="#963cb4"/><path d="M845.09,359.94L791,410.6L791,399.46L845.09,348.8Z" fill="#702d87"/></g>
<g><path d="M897.1,243.61L896.9,173.77L896.9,158.7L897.7,158.7L897.5,228.54L897.1,228.54Z" fill="#bf411a"/><path d="M896.9,158.7L896.9,159.77L900.17,159.79L903.45,159.88L906.71,160.02L909.98,160.23L910.08,159.17L910.08,174.24L906.79,174.03L903.49,173.88L900.2,173.79L896.9,173.77ZM910.08,159.17L909.98,160.23L913.24,160.5L916.49,160.84L919.74,161.23L922.97,161.69L923.17,160.64L923.17,175.71L919.91,175.25L916.64,174.85L913.36,174.51L910.08,174.24ZM923.17,160.64L922.97,161.69L926.19,162.21L929.4,162.79L932.59,163.43L935.77,164.13L936.07,163.1L936.07,178.16L932.87,177.46L929.65,176.81L926.42,176.23L923.17,175.71ZM936.07,163.1L935.77,164.13L938.93,164.89L942.07,165.71L945.19,166.59L948.29,167.53L948.69,166.52L948.69,181.59L945.57,180.65L942.42,179.76L939.26,178.93L936.07,178.16ZM948.69,166.52L948.29,167.53L951.37,168.53L954.42,169.58L957.44,170.7L960.44,171.87L960.93,170.89L960.93,185.96L957.91,184.78L954.86,183.66L951.79,182.6L948.69,181.59ZM960.93,170.89L960.44,171.87L963.41,173.09L966.34,174.38L969.25,175.72L972.13,177.11L972.71,176.18L972.71,191.25L969.82,189.84L966.89,188.49L963.92,187.2L960.93,185.96ZM972.71,176.18L972.13,177.11L974.97,178.56L977.77,180.06L980.54,181.62L983.27,183.22L983.94,182.34L983.94,197.41L981.19,195.79L978.4,194.22L975.57,192.71L972.71,191.25ZM983.94,182.34L983.27,183.22L985.96,184.88L988.61,186.59L991.21,188.35L993.78,190.16L994.54,189.33L994.54,204.4L991.95,202.57L989.32,200.8L986.65,199.08L983.94,197.41ZM994.54,189.33L993.78,190.16L996.3,192.01L998.78,193.92L1001.21,195.87L1003.59,197.86L1004.42,197.1L1004.42,212.16L1002.02,210.15L999.57,208.19L997.08,206.27L994.54,204.4ZM1004.42,197.1L1003.59,197.86L1005.92,199.9L1008.21,201.99L1010.44,204.12L1012.62,206.29L1013.52,205.58L1013.52,220.65L1011.33,218.47L1009.07,216.32L1006.77,214.22L1004.42,212.16ZM1013.52,205.58L1012.62,206.29L1014.75,208.5L1016.83,210.75L1018.85,213.04L1020.81,215.37L1021.78,214.73L1021.78,229.8L1019.8,227.46L1017.76,225.15L1015.67,222.88L1013.52,220.65ZM1021.78,214.73L1020.81,215.37L1022.72,217.73L1024.57,220.13L1026.37,222.56L1028.1,225.03L1029.13,224.48L1029.13,239.55L1027.38,237.06L1025.57,234.6L1023.7,232.19L1021.78,229.8ZM1029.13,224.48L1028.1,225.03L1029.78,227.53L1031.39,230.06L1032.94,232.63L1034.44,235.22L1035.51,234.74L1035.51,249.81L1034.01,247.2L1032.44,244.62L1030.81,242.07L1029.13,239.55ZM1035.51,234.74L1034.44,235.22L1035.86,237.83L1037.23,240.48L1038.53,243.15L1039.77,245.84L1040.88,245.45L1040.88,260.52L1039.64,257.8L1038.33,255.11L1036.95,252.45L1035.51,249.81ZM1040.88,245.45L1039.77,245.84L1040.94,248.56L1042.05,251.3L1043.09,254.06L1044.06,256.84L1045.21,256.53L1045.21,271.6L1044.23,268.8L1043.18,266.02L1042.07,263.26L1040.88,260.52ZM1045.21,256.53L1044.06,256.84L1044.97,259.63L1045.81,262.45L1046.58,265.27L1047.28,268.12L1048.46,267.9L1048.46,282.97L1047.75,280.1L1046.97,277.25L1046.13,274.42L1045.21,271.6ZM1048.46,267.9L1047.28,268.12L1047.92,270.97L1048.49,273.84L1048.98,276.71L1049.41,279.6L1050.6,279.47L1050.6,294.54L1050.17,291.63L1049.67,288.73L1049.1,285.84L1048.46,282.97ZM897.1,228.54L897.1,227.47L898.74,227.48L900.39,227.53L902.03,227.6L903.68,227.71L903.58,228.77L903.58,243.84L901.96,243.74L900.34,243.66L898.72,243.62L897.1,243.61ZM903.58,228.77L903.68,227.71L905.32,227.84L906.95,228.01L908.58,228.21L910.21,228.44L910.01,229.49L910.01,244.56L908.41,244.33L906.8,244.14L905.19,243.97L903.58,243.84ZM910.01,229.49L910.21,228.44L911.83,228.7L913.44,228.99L915.05,229.31L916.65,229.67L916.34,230.7L916.34,245.77L914.77,245.42L913.19,245.1L911.6,244.82L910.01,244.56ZM916.34,230.7L916.65,229.67L918.23,230.05L919.81,230.46L921.38,230.9L922.94,231.38L922.54,232.38L922.54,247.45L921.01,246.99L919.46,246.55L917.91,246.14L916.34,245.77ZM922.54,232.38L922.94,231.38L924.49,231.88L926.02,232.41L927.54,232.97L929.05,233.56L928.56,234.53L928.56,249.6L927.07,249.02L925.57,248.47L924.06,247.94L922.54,247.45ZM928.56,234.53L929.05,233.56L930.54,234.17L932.02,234.82L933.48,235.49L934.93,236.19L934.34,237.13L934.34,252.19L932.92,251.5L931.48,250.84L930.03,250.21L928.56,249.6ZM934.34,237.13L934.93,236.19L936.36,236.92L937.77,237.68L939.16,238.46L940.53,239.27L939.86,240.15L939.86,255.22L938.51,254.42L937.14,253.65L935.75,252.91L934.34,252.19ZM939.86,240.15L940.53,239.27L941.88,240.1L943.22,240.96L944.53,241.85L945.82,242.76L945.06,243.58L945.06,258.65L943.79,257.76L942.5,256.89L941.19,256.04L939.86,255.22ZM945.06,243.58L945.82,242.76L947.08,243.69L948.33,244.65L949.55,245.63L950.75,246.63L949.92,247.4L949.92,262.47L948.74,261.48L947.53,260.51L946.31,259.57L945.06,258.65ZM949.92,247.4L950.75,246.63L951.92,247.66L953.07,248.71L954.19,249.78L955.29,250.87L954.39,251.57L954.39,266.64L953.31,265.56L952.2,264.51L951.07,263.48L949.92,262.47ZM954.39,251.57L955.29,250.87L956.36,251.98L957.41,253.11L958.42,254.26L959.41,255.43L958.44,256.06L958.44,271.13L957.47,269.98L956.47,268.85L955.44,267.73L954.39,266.64ZM958.44,256.06L959.41,255.43L960.37,256.62L961.3,257.83L962.2,259.05L963.08,260.29L962.05,260.85L962.05,275.92L961.19,274.7L960.31,273.49L959.39,272.3L958.44,271.13ZM962.05,260.85L963.08,260.29L963.92,261.55L964.73,262.82L965.51,264.11L966.26,265.41L965.19,265.89L965.19,280.96L964.45,279.68L963.68,278.41L962.88,277.15L962.05,275.92ZM965.19,265.89L966.26,265.41L966.98,266.73L967.67,268.06L968.32,269.4L968.94,270.76L967.83,271.15L967.83,286.22L967.22,284.89L966.57,283.56L965.9,282.25L965.19,280.96ZM967.83,271.15L968.94,270.76L969.53,272.12L970.09,273.5L970.61,274.89L971.1,276.29L969.95,276.59L969.95,291.66L969.47,290.29L968.96,288.92L968.41,287.56L967.83,286.22ZM969.95,276.59L971.1,276.29L971.56,277.69L971.98,279.11L972.37,280.53L972.72,281.96L971.55,282.18L971.55,297.25L971.2,295.84L970.82,294.44L970.4,293.05L969.95,291.66ZM971.55,282.18L972.72,281.96L973.04,283.39L973.33,284.84L973.58,286.28L973.79,287.73L972.6,287.86L972.6,302.93L972.39,301.5L972.14,300.08L971.86,298.66L971.55,297.25Z" fill="#bf411a"/><path d="M897.1,228.54L896.9,158.7A154.42,137.26,0,0,1,1050.7,280.18L972.65,288.21A75.85,67.42,0,0,0,897.1,228.54Z" fill="#ff5722"/><path d="M1050.6,294.54L972.6,302.93L972.6,287.86L1050.6,279.47Z" fill="#bf411a"/></g>
<g><path d="M972.6,302.93L1050.6,294.54L1050.6,287.99L1050.7,288.7L972.65,296.73L972.6,296.38Z" fill="#1970b6"/><path d="M1050.6,294.54L1050.94,297.22L1051.21,299.9L1051.43,302.59L1051.58,305.28L1051.58,298.73L1050.39,298.77L1050.23,296.1L1050.02,293.44L1049.74,290.77L1049.41,288.12L1050.6,287.99ZM1051.58,305.28L1051.68,307.98L1051.72,310.67L1051.7,313.37L1051.62,316.06L1051.62,309.51L1050.42,309.47L1050.5,306.8L1050.52,304.12L1050.48,301.45L1050.39,298.77L1051.58,298.73ZM1051.62,316.06L1051.48,318.75L1051.28,321.44L1051.02,324.13L1050.7,326.81L1050.7,320.25L1049.5,320.13L1049.82,317.47L1050.08,314.81L1050.28,312.14L1050.42,309.47L1051.62,309.51ZM1050.7,326.81L1050.32,329.48L1049.88,332.15L1049.39,334.81L1048.83,337.46L1048.83,330.9L1047.65,330.7L1048.2,328.07L1048.7,325.43L1049.13,322.79L1049.5,320.13L1050.7,320.25ZM1048.83,337.46L1048.22,340.1L1047.55,342.72L1046.82,345.34L1046.03,347.94L1046.03,341.39L1044.88,341.1L1045.66,338.52L1046.38,335.93L1047.05,333.32L1047.65,330.7L1048.83,330.9ZM1046.03,347.94L1045.19,350.53L1044.29,353.1L1043.33,355.66L1042.31,358.2L1042.31,351.65L1041.19,351.28L1042.19,348.76L1043.14,346.23L1044.04,343.67L1044.88,341.1L1046.03,341.39ZM1042.31,358.2L1041.25,360.72L1040.12,363.23L1038.94,365.71L1037.7,368.17L1037.7,361.62L1036.61,361.17L1037.84,358.73L1039.01,356.27L1040.13,353.79L1041.19,351.28L1042.31,351.65ZM1037.7,368.17L1036.42,370.61L1035.07,373.03L1033.68,375.42L1032.23,377.79L1032.23,371.23L1031.18,370.71L1032.62,368.37L1034,365.99L1035.33,363.59L1036.61,361.17L1037.7,361.62ZM972.6,296.38L973.79,296.25L973.96,297.59L974.1,298.93L974.2,300.27L974.28,301.61L973.08,301.65L973.08,308.21L973.01,306.88L972.9,305.56L972.77,304.25L972.6,302.93ZM973.08,301.65L974.28,301.61L974.33,302.95L974.35,304.3L974.34,305.64L974.3,306.99L973.1,306.95L973.1,313.5L973.14,312.18L973.15,310.85L973.13,309.53L973.08,308.21ZM973.1,306.95L974.3,306.99L974.23,308.33L974.13,309.67L974,311.01L973.84,312.35L972.65,312.23L972.65,318.78L972.8,317.46L972.93,316.14L973.03,314.82L973.1,313.5ZM972.65,312.23L973.84,312.35L973.65,313.68L973.43,315.02L973.19,316.34L972.91,317.66L971.73,317.46L971.73,324.01L972,322.71L972.25,321.4L972.46,320.09L972.65,318.78ZM971.73,324.01L971.43,325.31L971.1,326.6L970.74,327.88L970.36,329.16L970.36,322.61L971.51,322.9L971.9,321.6L972.27,320.29L972.6,318.98L972.91,317.66L971.73,317.46ZM970.36,329.16L969.94,330.43L969.5,331.7L969.03,332.95L968.53,334.2L968.53,327.65L969.66,328.02L970.16,326.75L970.64,325.47L971.09,324.19L971.51,322.9L970.36,322.61ZM968.53,334.2L968,335.44L967.45,336.67L966.87,337.89L966.27,339.1L966.27,332.54L967.36,332.99L967.97,331.76L968.56,330.52L969.12,329.27L969.66,328.02L968.53,327.65ZM966.27,339.1L965.63,340.29L964.97,341.48L964.29,342.66L963.58,343.82L963.58,337.27L964.62,337.79L965.35,336.61L966.04,335.41L966.71,334.21L967.36,332.99L966.27,332.54Z" fill="#1970b6"/><path d="M972.6,296.38L1050.6,287.99A154.42,137.26,0,0,1,1031.83,371.86L963.38,337.58A75.85,67.42,0,0,0,972.6,296.38Z" fill="#2196f3"/><path d="M1032.23,377.79L963.58,343.82L963.58,337.27L1032.23,371.23Z" fill="#1970b6"/></g>
<g><path d="M791,410.6L845.09,359.94L845.09,340.94L845.38,341.18L791.59,392.09L791,391.6Z" fill="#2f3d88"/><path d="M963.58,343.82L1032.23,377.79L1032.23,358.79L1031.83,359.41L963.38,325.13L963.58,324.82Z" fill="#2f3d88"/><path d="M1032.23,377.79L1030.57,380.37L1028.84,382.92L1027.06,385.44L1025.21,387.93L1025.21,368.93L1024.22,368.33L1026.05,365.87L1027.82,363.37L1029.53,360.83L1031.18,358.27L1032.23,358.79ZM1025.21,387.93L1023.31,390.38L1021.34,392.79L1019.32,395.16L1017.23,397.49L1017.23,378.49L1016.3,377.82L1018.37,375.51L1020.38,373.15L1022.33,370.76L1024.22,368.33L1025.21,368.93ZM1017.23,397.49L1015.1,399.78L1012.9,402.03L1010.65,404.24L1008.35,406.4L1008.35,387.4L1007.49,386.66L1009.77,384.52L1012,382.33L1014.18,380.09L1016.3,377.82L1017.23,378.49ZM1008.35,406.4L1006,408.52L1003.6,410.6L1001.14,412.62L998.64,414.6L998.64,395.6L997.85,394.8L1000.33,392.83L1002.77,390.82L1005.16,388.77L1007.49,386.66L1008.35,387.4ZM998.64,414.6L996.09,416.53L993.49,418.41L990.85,420.24L988.16,422.02L988.16,403.02L987.45,402.15L990.12,400.39L992.74,398.58L995.32,396.71L997.85,394.8L998.64,395.6ZM988.16,422.02L985.43,423.74L982.66,425.42L979.85,427.03L977,428.6L977,409.6L976.38,408.68L979.21,407.13L982,405.53L984.74,403.87L987.45,402.15L988.16,403.02ZM977,428.6L974.11,430.11L971.19,431.56L968.23,432.96L965.24,434.3L965.24,415.3L964.71,414.34L967.68,413.01L970.61,411.62L973.51,410.18L976.38,408.68L977,409.6ZM965.24,434.3L962.21,435.58L959.16,436.8L956.07,437.96L952.96,439.06L952.96,420.06L952.53,419.07L955.62,417.97L958.68,416.82L961.71,415.61L964.71,414.34L965.24,415.3ZM952.96,439.06L949.83,440.11L946.66,441.09L943.48,442.01L940.27,442.87L940.27,423.87L939.94,422.85L943.12,421.99L946.28,421.08L949.42,420.1L952.53,419.07L952.96,420.06ZM940.27,442.87L937.04,443.67L933.8,444.4L930.53,445.08L927.26,445.68L927.26,426.68L927.02,425.64L930.28,425.03L933.51,424.37L936.73,423.64L939.94,422.85L940.27,423.87ZM927.26,445.68L923.96,446.23L920.66,446.71L917.34,447.13L914.02,447.49L914.02,428.49L913.89,427.43L917.19,427.07L920.48,426.66L923.76,426.18L927.02,425.64L927.26,426.68ZM914.02,447.49L910.68,447.78L907.34,448L904,448.16L900.65,448.26L900.65,429.26L900.62,428.19L903.95,428.1L907.26,427.94L910.58,427.71L913.89,427.43L914.02,428.49ZM900.65,448.26L897.3,448.29L893.95,448.26L890.6,448.16L887.26,448L887.26,429L887.34,427.94L890.65,428.1L893.98,428.19L897.3,428.23L900.62,428.19L900.65,429.26ZM887.26,448L883.92,447.78L880.58,447.49L877.26,447.13L873.94,446.71L873.94,427.71L874.12,426.66L877.41,427.07L880.71,427.43L884.02,427.71L887.34,427.94L887.26,429ZM873.94,446.71L870.64,446.23L867.34,445.68L864.07,445.08L860.8,444.4L860.8,425.4L861.09,424.37L864.32,425.03L867.58,425.64L870.84,426.18L874.12,426.66L873.94,427.71ZM860.8,444.4L857.56,443.67L854.33,442.87L851.12,442.01L847.94,441.09L847.94,422.09L848.32,421.08L851.48,421.99L854.66,422.85L857.87,423.64L861.09,424.37L860.8,425.4ZM847.94,441.09L844.77,440.11L841.64,439.06L838.53,437.96L835.44,436.8L835.44,417.8L835.92,416.82L838.98,417.97L842.07,419.07L845.18,420.1L848.32,421.08L847.94,422.09ZM835.44,436.8L832.39,435.58L829.36,434.3L826.37,432.96L823.41,431.56L823.41,412.56L823.99,411.62L826.92,413.01L829.89,414.34L832.89,415.61L835.92,416.82L835.44,417.8ZM823.41,431.56L820.49,430.11L817.6,428.6L814.75,427.03L811.94,425.42L811.94,406.42L812.6,405.53L815.39,407.13L818.22,408.68L821.09,410.18L823.99,411.62L823.41,412.56ZM811.94,425.42L809.17,423.74L806.44,422.02L803.75,420.24L801.11,418.41L801.11,399.41L801.86,398.58L804.48,400.39L807.15,402.15L809.86,403.87L812.6,405.53L811.94,406.42ZM801.11,418.41L798.51,416.53L795.96,414.6L793.46,412.62L791,410.6L791,391.6L791.83,390.82L794.27,392.83L796.75,394.8L799.28,396.71L801.86,398.58L801.11,399.41ZM963.58,343.82L962.76,345.09L961.91,346.34L961.04,347.58L960.13,348.8L960.13,329.8L961.12,330.4L962.04,329.16L962.94,327.9L963.8,326.63L964.62,325.34L963.58,324.82ZM960.13,348.8L959.19,350L958.23,351.19L957.23,352.35L956.21,353.5L956.21,334.5L957.14,335.17L958.18,334.01L959.19,332.82L960.17,331.62L961.12,330.4L960.13,329.8ZM956.21,353.5L955.16,354.63L954.08,355.73L952.98,356.81L951.85,357.88L951.85,338.88L952.71,339.62L953.86,338.54L954.98,337.44L956.08,336.31L957.14,335.17L956.21,334.5ZM951.85,357.88L950.69,358.92L949.51,359.94L948.31,360.93L947.08,361.9L947.08,342.9L947.86,343.71L949.11,342.72L950.34,341.71L951.54,340.68L952.71,339.62L951.85,338.88ZM947.08,361.9L945.82,362.85L944.55,363.77L943.25,364.67L941.93,365.55L941.93,346.55L942.64,347.41L943.98,346.52L945.29,345.61L946.59,344.67L947.86,343.71L947.08,342.9ZM941.93,365.55L940.59,366.39L939.23,367.22L937.85,368.01L936.45,368.78L936.45,349.78L937.07,350.69L938.49,349.91L939.89,349.1L941.27,348.27L942.64,347.41L941.93,346.55ZM936.45,368.78L935.03,369.52L933.59,370.23L932.14,370.92L930.67,371.58L930.67,352.58L931.2,353.53L932.69,352.87L934.17,352.17L935.63,351.45L937.07,350.69L936.45,349.78ZM930.67,371.58L929.18,372.21L927.68,372.81L926.17,373.38L924.64,373.92L924.64,354.92L925.07,355.91L926.63,355.36L928.16,354.78L929.69,354.17L931.2,353.53L930.67,352.58ZM924.64,373.92L923.1,374.43L921.55,374.91L919.98,375.37L918.41,375.79L918.41,356.79L918.74,357.81L920.34,357.38L921.93,356.93L923.51,356.44L925.07,355.91L924.64,354.92ZM918.41,375.79L916.82,376.18L915.23,376.54L913.62,376.87L912.01,377.17L912.01,358.17L912.25,359.22L913.88,358.91L915.51,358.58L917.13,358.21L918.74,357.81L918.41,356.79ZM912.01,377.17L910.4,377.44L908.77,377.68L907.14,377.88L905.51,378.06L905.51,359.06L905.64,360.12L907.3,359.94L908.95,359.73L910.6,359.49L912.25,359.22L912.01,358.17ZM905.51,378.06L903.87,378.2L902.23,378.31L900.59,378.39L898.95,378.44L898.95,359.44L898.97,360.5L900.64,360.45L902.31,360.37L903.98,360.26L905.64,360.12L905.51,359.06ZM898.95,378.44L897.3,378.45L895.65,378.44L894.01,378.39L892.37,378.31L892.37,359.31L892.29,360.37L893.96,360.45L895.63,360.5L897.3,360.52L898.97,360.5L898.95,359.44ZM892.37,378.31L890.73,378.2L889.09,378.06L887.46,377.88L885.83,377.68L885.83,358.68L885.65,359.73L887.3,359.94L888.96,360.12L890.62,360.26L892.29,360.37L892.37,359.31ZM885.83,377.68L884.2,377.44L882.59,377.17L880.98,376.87L879.37,376.54L879.37,357.54L879.09,358.58L880.72,358.91L882.35,359.22L884,359.49L885.65,359.73L885.83,358.68ZM879.37,376.54L877.78,376.18L876.19,375.79L874.62,375.37L873.05,374.91L873.05,355.91L872.67,356.93L874.26,357.38L875.86,357.81L877.47,358.21L879.09,358.58L879.37,357.54ZM873.05,374.91L871.5,374.43L869.96,373.92L868.43,373.38L866.92,372.81L866.92,353.81L866.44,354.78L867.97,355.36L869.53,355.91L871.09,356.44L872.67,356.93L873.05,355.91ZM866.92,372.81L865.42,372.21L863.93,371.58L862.46,370.92L861.01,370.23L861.01,351.23L860.43,352.17L861.91,352.87L863.4,353.53L864.91,354.17L866.44,354.78L866.92,353.81ZM861.01,370.23L859.57,369.52L858.15,368.78L856.75,368.01L855.37,367.22L855.37,348.22L854.71,349.1L856.11,349.91L857.53,350.69L858.97,351.45L860.43,352.17L861.01,351.23ZM855.37,367.22L854.01,366.39L852.67,365.55L851.35,364.67L850.05,363.77L850.05,344.77L849.31,345.61L850.62,346.52L851.96,347.41L853.33,348.27L854.71,349.1L855.37,348.22ZM850.05,363.77L848.78,362.85L847.52,361.9L846.29,360.93L845.09,359.94L845.09,340.94L844.26,341.71L845.49,342.72L846.74,343.71L848.01,344.67L849.31,345.61L850.05,344.77Z" fill="#2f3d88"/><path d="M963.58,324.82L1032.23,358.79A154.42,137.26,0,0,1,791,391.6L845.09,340.94A75.85,67.42,0,0,0,963.58,324.82Z" fill="#3f51b5"/></g>
<path d="M1072,830L1128,818L1131,830Z" fill="#eb0088"/>
<text transform="translate(177.45,54.00) scale(1.0318,1)" font-size="30.87" font-weight="normal" fill="#2e2a84" stroke="#2e2a84" stroke-width="0.7">Visitor Profile</text>
<text transform="translate(787.85,59.00) scale(1.0064,1)" font-size="30.87" font-weight="normal" fill="#2e2a84" stroke="#2e2a84" stroke-width="0.7">Visitor Segment</text>
<text transform="translate(98.89,86.80) scale(0.9972,1)" font-size="22.39" font-weight="normal" fill="#eb0085" stroke="#eb0085" stroke-width="0.55">Demographics of Plastivision 2023</text>
<text transform="translate(725.89,90.80) scale(0.9951,1)" font-size="22.39" font-weight="normal" fill="#eb0085" stroke="#eb0085" stroke-width="0.55">Demographics of Plastivision 2023</text>
<rect x="81.90" y="507.00" width="26.2" height="26.4" rx="3.5" fill="#ff6384"/>
<text transform="translate(112.96,525.00) scale(0.9374,1)" font-size="17.39" font-weight="normal" fill="#141414" stroke="#fff" stroke-width="0.38">Self-employed /Business</text>
<text transform="translate(319.60,525.00) scale(0.8809,1)" font-size="17.39" font-weight="normal" fill="#141414" stroke="#fff" stroke-width="0.38">52.0%</text>
<rect x="81.90" y="549.85" width="26.2" height="26.4" rx="3.5" fill="#ffcd56"/>
<text transform="translate(112.11,568.00) scale(0.9351,1)" font-size="17.39" font-weight="normal" fill="#141414" stroke="#fff" stroke-width="0.38">Managing Directors &amp; Board Members</text>
<text transform="translate(419.19,568.00) scale(0.8944,1)" font-size="17.39" font-weight="normal" fill="#141414" stroke="#fff" stroke-width="0.38">9.0%</text>
<rect x="81.90" y="592.70" width="26.2" height="26.4" rx="3.5" fill="#9966ff"/>
<text transform="translate(112.56,611.00) scale(0.9299,1)" font-size="17.39" font-weight="normal" fill="#141414" stroke="#fff" stroke-width="0.38">Operation &amp; Production Managers</text>
<text transform="translate(383.72,611.00) scale(0.8948,1)" font-size="17.39" font-weight="normal" fill="#141414" stroke="#fff" stroke-width="0.38">14.0%</text>
<rect x="81.90" y="635.55" width="26.2" height="26.4" rx="3.5" fill="#ff65da"/>
<text transform="translate(111.91,654.00) scale(0.9324,1)" font-size="17.39" font-weight="normal" fill="#141414" stroke="#fff" stroke-width="0.38">Department &amp; Group Head</text>
<text transform="translate(334.70,654.00) scale(0.8736,1)" font-size="17.39" font-weight="normal" fill="#141414" stroke="#fff" stroke-width="0.38">8.0%</text>
<rect x="81.90" y="678.40" width="26.2" height="26.4" rx="3.5" fill="#ff7866"/>
<text transform="translate(112.66,697.00) scale(0.9353,1)" font-size="17.39" font-weight="normal" fill="#141414" stroke="#fff" stroke-width="0.38">Salaried Workforce</text>
<text transform="translate(284.83,697.00) scale(0.8985,1)" font-size="17.39" font-weight="normal" fill="#141414" stroke="#fff" stroke-width="0.38">7.0%</text>
<rect x="81.90" y="721.25" width="26.2" height="26.4" rx="3.5" fill="#f9fb60"/>
<text transform="translate(112.50,740.00) scale(0.9333,1)" font-size="17.39" font-weight="normal" fill="#141414" stroke="#fff" stroke-width="0.38">Consultants &amp; Govt bodies</text>
<text transform="translate(336.10,740.00) scale(0.8736,1)" font-size="17.39" font-weight="normal" fill="#141414" stroke="#fff" stroke-width="0.38">5.0%</text>
<rect x="81.90" y="764.10" width="26.2" height="26.4" rx="3.5" fill="#72ff66"/>
<text transform="translate(112.66,783.00) scale(0.9315,1)" font-size="17.39" font-weight="normal" fill="#141414" stroke="#fff" stroke-width="0.38">Others</text>
<text transform="translate(197.80,783.00) scale(0.8762,1)" font-size="17.39" font-weight="normal" fill="#141414" stroke="#fff" stroke-width="0.38">5.0%</text>
<rect x="755.60" y="520.80" width="26.2" height="26.4" rx="3.5" fill="#ff5722"/>
<text transform="translate(786.29,539.00) scale(0.9461,1)" font-size="17.39" font-weight="normal" fill="#141414" stroke="#fff" stroke-width="0.38">Machinery</text>
<text transform="translate(885.03,539.00) scale(0.8987,1)" font-size="17.39" font-weight="normal" fill="#141414" stroke="#fff" stroke-width="0.38">23.0%</text>
<rect x="755.60" y="563.65" width="26.2" height="26.4" rx="3.5" fill="#2196f3"/>
<text transform="translate(787.61,582.00) scale(0.9278,1)" font-size="17.39" font-weight="normal" fill="#141414" stroke="#fff" stroke-width="0.38">Auxiliary Equipments</text>
<text transform="translate(964.52,582.00) scale(0.8948,1)" font-size="17.39" font-weight="normal" fill="#141414" stroke="#fff" stroke-width="0.38">10.0%</text>
<rect x="755.60" y="606.50" width="26.2" height="26.4" rx="3.5" fill="#3f51b5"/>
<text transform="translate(786.30,625.00) scale(0.9401,1)" font-size="17.39" font-weight="normal" fill="#141414" stroke="#fff" stroke-width="0.38">Raw Materials</text>
<text transform="translate(911.43,625.00) scale(0.9008,1)" font-size="17.39" font-weight="normal" fill="#141414" stroke="#fff" stroke-width="0.38">29.0%</text>
<rect x="755.60" y="649.35" width="26.2" height="26.4" rx="3.5" fill="#963cb4"/>
<text transform="translate(786.32,668.00) scale(0.9281,1)" font-size="17.39" font-weight="normal" fill="#141414" stroke="#fff" stroke-width="0.38">Moulds &amp; Dies</text>
<text transform="translate(912.83,668.00) scale(0.8885,1)" font-size="17.39" font-weight="normal" fill="#141414" stroke="#fff" stroke-width="0.38">17.0%</text>
<rect x="755.60" y="692.20" width="26.2" height="26.4" rx="3.5" fill="#b23d65"/>
<text transform="translate(786.96,711.00) scale(0.9329,1)" font-size="17.39" font-weight="normal" fill="#141414" stroke="#fff" stroke-width="0.38">Semi Finished / Finished</text>
<text transform="translate(989.93,711.00) scale(0.8906,1)" font-size="17.39" font-weight="normal" fill="#141414" stroke="#fff" stroke-width="0.38">16.0%</text>
<rect x="755.60" y="735.05" width="26.2" height="26.4" rx="3.5" fill="#b27e3f"/>
<text transform="translate(786.97,754.00) scale(0.9197,1)" font-size="17.39" font-weight="normal" fill="#141414" stroke="#fff" stroke-width="0.38">Others</text>
<text transform="translate(871.82,754.00) scale(0.8476,1)" font-size="17.39" font-weight="normal" fill="#141414" stroke="#fff" stroke-width="0.38">5.0%</text>
<g transform="translate(711.9,763.2)" opacity="0.3" fill="none" stroke-width="1.75" stroke-linecap="butt"><path d="M12.7,0 L23.6,0 C26.7,0 30.0,-10.5 32.5,-10.5 C34.6,-10.5 35.6,-4.9 37.4,-4.9 C39.3,-4.9 40.6,-10.5 42.8,-10.5 C45.4,-10.5 48.2,0 51.2,0 L59,0" stroke="#a2a2a2"/><path d="M0,0 L10.6,0 C15.5,0 18.5,-12.5 22.7,-12.5 C26.9,-12.5 30.4,0 35.4,0 L50.4,0" stroke="#383838"/></g>
<g transform="translate(-19.1,792.4)" opacity="0.3" fill="none" stroke-width="1.75" stroke-linecap="butt"><path d="M12.7,0 L23.6,0 C26.7,0 30.0,-10.5 32.5,-10.5 C34.6,-10.5 35.6,-4.9 37.4,-4.9 C39.3,-4.9 40.6,-10.5 42.8,-10.5 C45.4,-10.5 48.2,0 51.2,0 L59,0" stroke="#a2a2a2"/><path d="M0,0 L10.6,0 C15.5,0 18.5,-12.5 22.7,-12.5 C26.9,-12.5 30.4,0 35.4,0 L50.4,0" stroke="#383838"/></g>
</svg>
</body></html>
